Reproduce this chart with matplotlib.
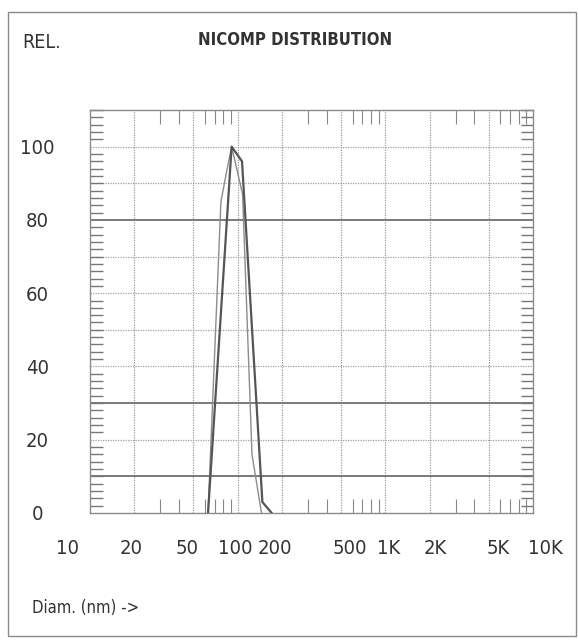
import matplotlib.pyplot as plt
from matplotlib.patches import Rectangle
from matplotlib.ticker import FixedLocator, NullFormatter
from matplotlib.transforms import ScaledTranslation

# diameter (nm) vs relative intensity, two runs
diam_a = [63, 91, 107, 147, 170]
rel_a = [0, 100, 96, 3, 0]
diam_b = [63, 77, 84, 91, 108, 125, 145]
rel_b = [0, 85, 93, 100, 87, 16, 0]

x_ticks = [10, 20, 50, 100, 200, 500, 1000, 2000, 5000, 10000]
x_labels = ['10', '20', '50', '100', '200', '500', '1K', '2K', '5K', '10K']
y_ticks = [0, 20, 40, 60, 80, 100]

plt.rcParams['font.family'] = ['DejaVu Sans']
plt.rcParams['font.stretch'] = 'condensed'

fig = plt.figure(figsize=(5.78, 6.41), dpi=100)
fig.patch.set_facecolor('white')
fig.patches.append(Rectangle((8 / 578, 5 / 641), 568 / 578, 624 / 641,
                             transform=fig.transFigure, fill=False,
                             edgecolor='#8a8a8a', lw=1.0))

ax = fig.add_axes([90 / 578, 1 - 513 / 641, 443 / 578, 403 / 641])
ax.set_xscale('log')
ax.set_xlim(10, 10000)
ax.set_ylim(0, 110)

# grid
for v in [20, 50, 100, 200, 500, 1000, 2000, 5000]:
    ax.axvline(v, color='#9a9a9a', lw=0.9, ls=(0, (1, 1)), zorder=1)
for h in range(10, 110, 10):
    dark = h in (10, 30, 80)
    ax.axhline(h, color='#707070' if dark else '#a0a0a0',
               lw=1.3 if dark else 0.9,
               ls='-' if dark else (0, (1, 1)), zorder=1)

ax.plot(diam_b, rel_b, color='#8c8c8c', lw=1.0, zorder=3)
ax.plot(diam_a, rel_a, color='#555555', lw=1.6, zorder=4)

ax.xaxis.set_major_locator(FixedLocator(x_ticks))
ax.set_xticklabels(x_labels)
minors = [m * d for d in (10, 100, 1000) for m in (3, 4, 6, 7, 8, 9)]
ax.xaxis.set_minor_locator(FixedLocator(minors))
ax.xaxis.set_minor_formatter(NullFormatter())
ax.tick_params(axis='x', which='major', length=0, pad=19, labelsize=14.5,
               labelcolor='#333333')
ax.tick_params(axis='x', which='minor', direction='in', length=10,
               width=0.8, color='#888888', top=True, bottom=True)
label_shift = [-23, -3, -6, -2, -7, 9, 3, 5, 10, 12]
for lab, dx in zip(ax.get_xticklabels(), label_shift):
    lab.set_transform(lab.get_transform() +
                      ScaledTranslation(dx / 100, 0, fig.dpi_scale_trans))

ax.set_yticks(y_ticks)
ax.yaxis.set_minor_locator(FixedLocator(range(0, 111, 2)))
ax.tick_params(axis='y', which='major', length=0, pad=38, labelsize=14.5,
               labelcolor='#333333')
ax.tick_params(axis='y', which='minor', direction='in', length=9,
               width=1.0, color='#777777', left=True, right=True)
for lab in ax.get_yticklabels():
    lab.set_horizontalalignment('center')

for s in ax.spines.values():
    s.set_color('#8a8a8a')
    s.set_linewidth(1.0)

fig.text(22 / 578, 1 - 42 / 641, 'REL.', fontsize=14, color='#333333',
         ha='left', va='center')
fig.text(295 / 578, 1 - 40 / 641, 'NICOMP DISTRIBUTION', fontsize=12,
         fontweight='bold', color='#333333', ha='center', va='center')
fig.text(32 / 578, 1 - 608 / 641, 'Diam. (nm) ->', fontsize=12,
         color='#333333', ha='left', va='center')

fig.savefig('out.png', dpi=100, facecolor='white')
